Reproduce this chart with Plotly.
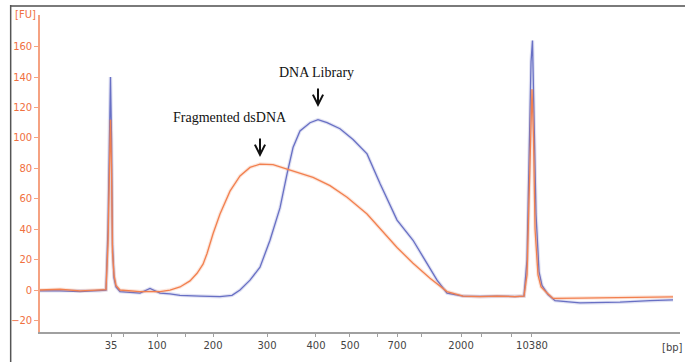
import plotly.graph_objects as go

# Ladder (bp) and their migration-time positions (s)
ladder_bp = [35, 50, 100, 150, 200, 300, 400, 500, 600, 700, 1000, 2000, 3000, 7000, 10380]
ladder_time = [48.88, 50.5, 54.63, 58.25, 61.63, 68.38, 74.5, 78.75, 82.13, 84.63, 87.63, 92.63, 95.13, 99.0, 101.5]
ladder_label = ["35", "", "100", "", "200", "300", "400", "500", "", "700", "", "2000", "", "", "10380"]

# Fragmented dsDNA (orange)
frag_time = [40, 42.5, 45, 47.5, 48.25, 48.5, 48.69, 48.81, 48.94, 49.06, 49.25, 49.5, 50, 52.5, 55,
             56.25, 57.5, 58.75, 59.63, 60.38, 60.88, 61.63, 62.5, 63.75, 65, 66.25, 67.5, 69.13, 70.88,
             72.5, 74.13, 76.25, 78.38, 80.88, 82.5, 84.63, 86.63, 88.75, 90.88, 92.88, 95, 97.13, 99.38,
             100.5, 100.88, 101.13, 101.38, 101.5, 101.69, 101.88, 102.25, 102.63, 103.38, 104.13, 107.5,
             112.5, 116.25, 119.13]
frag_fu = [0, 0.5, -0.5, 0, 0.3, 30, 90, 112, 80, 25, 10, 3, 0, -1, -1,
           0, 2, 6, 11, 17, 24, 37, 50, 65, 75, 80.6, 82.8, 82.4, 79.5,
           77, 74, 68.6, 61, 50, 40.5, 28, 17.6, 7.8, -1, -4, -4.4, -4, -4.3,
           -4, 10, 60, 120, 132, 100, 40, 10, 2, -2, -5.5, -5.3,
           -5, -4.5, -4.5]

# DNA Library (blue)
lib_time = [40, 42.5, 45, 47.5, 48.25, 48.5, 48.69, 48.81, 48.94, 49.06, 49.25, 49.5, 50, 52.5, 53.75,
            55, 56.25, 57.5, 60, 62.5, 64, 65, 66.25, 67.5, 68.75, 70, 70.88, 71.63, 72.5, 73.75,
            74.75, 75.88, 77.5, 79.13, 80.88, 82.5, 84.63, 86.63, 87.88, 89.63, 90.88, 92.88, 95,
            97.13, 99.38, 100.5, 100.88, 101.13, 101.38, 101.56, 101.75, 102, 102.38, 102.75, 103.5,
            104.38, 107.5, 112.5, 116.25, 119.13]
lib_fu = [-0.5, -0.5, -1, -0.5, 0, 40, 110, 140, 100, 30, 8, 2, -1, -2, 1,
          -2, -2.5, -3.5, -4, -4.4, -3.5, 0, 6.5, 15, 32.7, 54, 76.4, 93.7, 104.6, 110,
          112, 110, 106, 99, 89.5, 70, 46, 32.7, 21.8, 6.5, -2, -4, -4.2,
          -4, -4.3, -4, 20, 80, 150, 164, 120, 50, 12, 3, -3,
          -7, -8.5, -8, -7, -6.5]

ORANGE = "#f2804f"
BLUE = "#6870c4"
TICK_ORANGE = "#f0703f"

fig = go.Figure()
for t, v, c in [(lib_time, lib_fu, BLUE), (frag_time, frag_fu, ORANGE)]:
    fig.add_trace(go.Scatter(x=t, y=v, mode="lines", line=dict(color=c, width=3.5),
                             opacity=0.2, hoverinfo="skip", showlegend=False))
    fig.add_trace(go.Scatter(x=t, y=v, mode="lines", line=dict(color=c, width=1.3),
                             showlegend=False))

fig.update_layout(
    width=685, height=362,
    margin=dict(l=10, r=0, t=5, b=0, autoexpand=False),
    paper_bgcolor="white", plot_bgcolor="white",
    font=dict(family="DejaVu Sans", size=10, color="#444"),
    xaxis=dict(domain=[0.04444, 0.99259], range=[40, 120], showgrid=False, zeroline=False,
               automargin=False, showline=True, linecolor="#a0a0a0", linewidth=1.5,
               tickmode="array", tickvals=ladder_time, ticktext=ladder_label,
               ticks="outside", ticklen=3, tickcolor="#a0a0a0",
               tickfont=dict(size=10, color="#444")),
    yaxis=dict(domain=[0.08403, 0.97199], range=[-27.6, 180.8], showgrid=False, zeroline=False,
               automargin=False, showline=True, linecolor="#f5a282", linewidth=1.5,
               tickmode="array", tickvals=[-20, 0, 20, 40, 60, 80, 100, 120, 140, 160],
               ticks="outside", ticklen=4, tickcolor="#f5a282",
               tickfont=dict(size=10, color=TICK_ORANGE)),
)

# window frame lines (paper edges)
fig.add_shape(type="line", xref="paper", yref="paper", x0=0, x1=1, y0=0.997, y1=0.997,
              line=dict(color="#7a7a7a", width=2), layer="above")
fig.add_shape(type="line", xref="paper", yref="paper", x0=0.001, x1=0.001, y0=0, y1=1,
              line=dict(color="#555", width=1.5), layer="above")

fig.add_annotation(xref="paper", yref="paper", x=0.0415, y=0.972, xanchor="right", yanchor="middle",
                   text="[FU]", showarrow=False, font=dict(size=10, color=TICK_ORANGE))
fig.add_annotation(xref="paper", yref="paper", x=1.0, y=0.04, xanchor="right", yanchor="middle",
                   text="[bp]", showarrow=False, font=dict(size=10, color="#444"))

# labels and arrows
fig.add_annotation(x=74.6, y=142.7, text="DNA Library", showarrow=False,
                   font=dict(family="Liberation Serif", size=14, color="#111"))
fig.add_annotation(x=74.75, y=120.3, ax=0, ay=-20, text="", showarrow=True,
                   arrowhead=5, arrowsize=1, arrowwidth=2, arrowcolor="#111")
fig.add_annotation(x=63.75, y=113.7, text="Fragmented dsDNA", showarrow=False,
                   font=dict(family="Liberation Serif", size=14, color="#111"))
fig.add_annotation(x=67.5, y=87.4, ax=0, ay=-20, text="", showarrow=True,
                   arrowhead=5, arrowsize=1, arrowwidth=2, arrowcolor="#111")

fig.write_html("out.html", config={"displayModeBar": False},
               post_script="document.body.style.margin='0';")
